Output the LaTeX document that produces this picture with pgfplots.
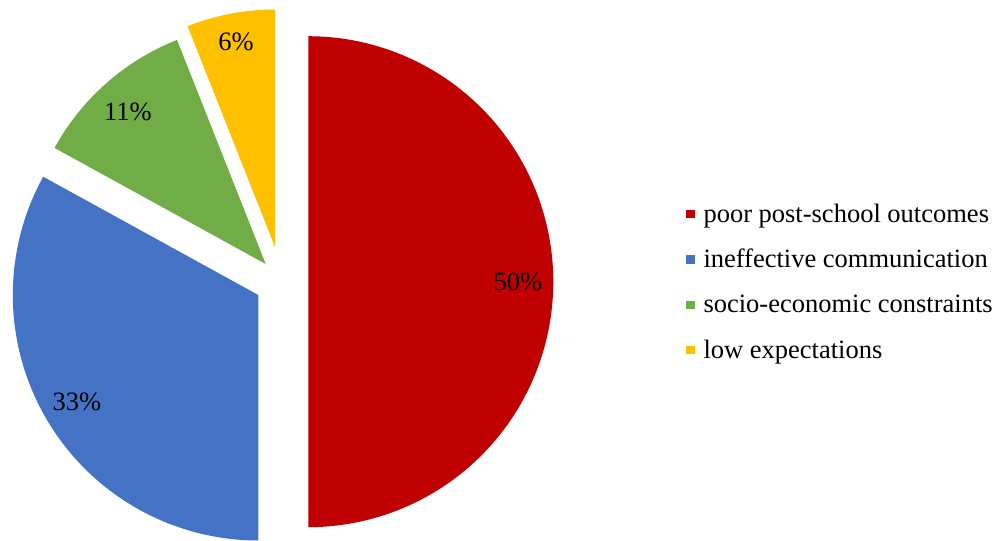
\documentclass[border=0pt]{standalone}
\usepackage{fontspec}
\setmainfont{Liberation Serif}
\usepackage{pgfplots}
\pgfplotsset{compat=1.18}
\definecolor{cred}{HTML}{C00000}
\definecolor{cblue}{HTML}{4472C4}
\definecolor{cgreen}{HTML}{70AD47}
\definecolor{cyellow}{HTML}{FFC000}
% shares (percent)
\def\pA{50}\def\pB{33}\def\pC{11}\def\pD{6}
\begin{document}
\begin{tikzpicture}
\pgfmathsetmacro{\aA}{90}
\pgfmathsetmacro{\aB}{\aA-3.6*\pA}
\pgfmathsetmacro{\aC}{\aB-3.6*\pB}
\pgfmathsetmacro{\aD}{\aC-3.6*\pC}
\pgfmathsetmacro{\aE}{\aD-3.6*\pD}
\begin{axis}[
  width=1005pt, height=541pt, scale only axis,
  xmin=0, xmax=1005, ymin=0, ymax=541,
  axis line style={draw=none}, xtick=\empty, ytick=\empty,
  font=\fontsize{26.5}{32}\selectfont,
  legend image code/.code={\fill[#1] (0pt,3.8pt) rectangle (8.5pt,12.2pt);},
  legend style={draw=none, fill=none, at={(axis cs:686,336.7)}, anchor=north west,
    inner sep=0pt, outer sep=0pt, row sep=21.3pt,
    nodes={inner sep=0pt, text height=18pt, text depth=6pt, anchor=base west},
    /tikz/every odd column/.append style={column sep=9pt},
    font=\fontsize{26.5}{32}\selectfont},
  legend cell align=left,
]
\addplot[fill=cred, draw=none, domain=\aB:\aA, samples=120, variable=\t]
  ({308.3+245*cos(t)}, {259.3+245.5*sin(t)}) -- (axis cs:308.3,259.3) -- cycle;
\addlegendentry{poor post-school outcomes}
\addplot[fill=cblue, draw=none, domain=\aC:\aB, samples=100, variable=\t]
  ({258.3+245.5*cos(t)}, {246+245.5*sin(t)}) -- (axis cs:258.3,246) -- cycle;
\addlegendentry{ineffective communication}
\addplot[fill=cgreen, draw=none, domain=\aD:\aC, samples=50, variable=\t]
  ({265.7+241*cos(t)}, {277+241*sin(t)}) -- (axis cs:265.7,277) -- cycle;
\addlegendentry{socio-economic constraints}
\addplot[fill=cyellow, draw=none, domain=\aE:\aD, samples=40, variable=\t]
  ({275+237.5*cos(t)}, {294+237.5*sin(t)}) -- (axis cs:275,294) -- cycle;
\addlegendentry{low expectations}
\node[inner sep=0pt] at (axis cs:518,259) {50\%};
\node[inner sep=0pt] at (axis cs:77,139) {33\%};
\node[inner sep=0pt] at (axis cs:128,429) {11\%};
\node[inner sep=0pt] at (axis cs:236,499.5) {6\%};
\end{axis}
\end{tikzpicture}
\end{document}
